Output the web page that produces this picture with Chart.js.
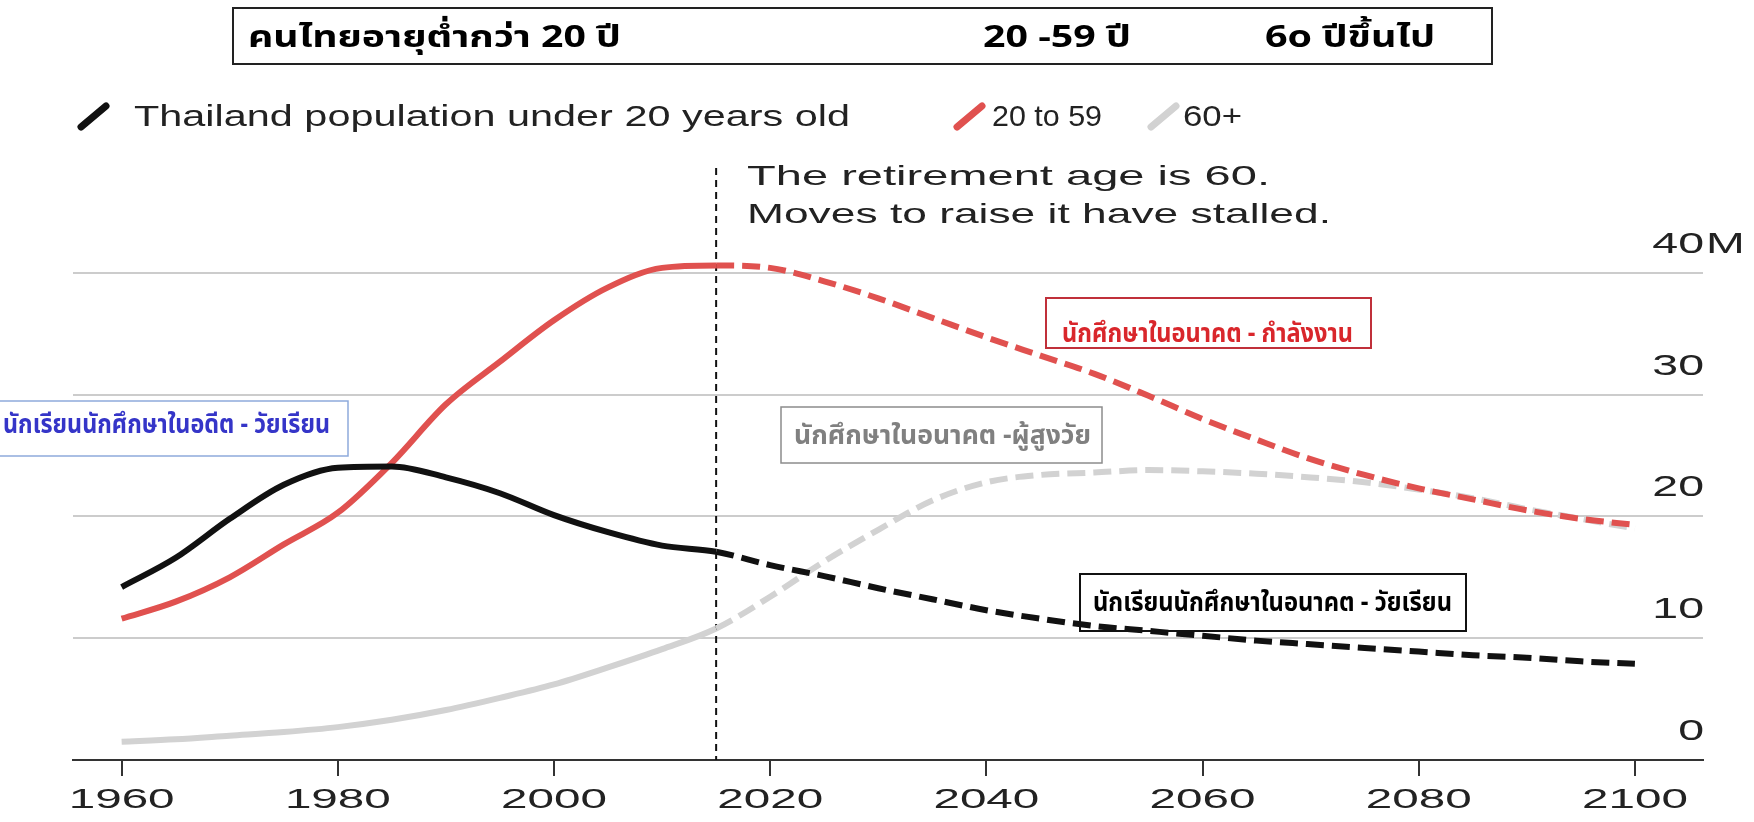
<!DOCTYPE html>
<html>
<head>
<meta charset="utf-8">
<script src="https://cdn.jsdelivr.net/npm/chart.js@4"></script>
<style>
html, body { margin: 0; padding: 0; background: #fff; }
#chart { display: block; }
</style>
</head>
<body>
<canvas id="chart" width="1754" height="822"></canvas>
<script>
// Thailand population by age group, millions (projection from 2015)
const years = [1960, 1965, 1970, 1975, 1980, 1985, 1990, 1995, 2000, 2005, 2010, 2015,
               2020, 2025, 2030, 2035, 2040, 2045, 2050, 2055, 2060, 2065, 2070, 2075,
               2080, 2085, 2090, 2095, 2100];
const under20 = [14.2, 16.6, 19.8, 22.6, 24.0, 24.1, 23.2, 21.9, 20.1, 18.7, 17.6, 17.1,
                 16.0, 15.1, 14.1, 13.2, 12.3, 11.6, 11.0, 10.6, 10.2, 9.8, 9.5, 9.2,
                 8.9, 8.6, 8.4, 8.1, 7.9];
const age20to59 = [11.6, 13.0, 15.0, 17.7, 20.3, 24.4, 29.2, 32.7, 36.1, 38.8, 40.4, 40.6,
                   40.4, 39.3, 37.9, 36.3, 34.7, 33.2, 31.7, 29.9, 28.0, 26.3, 24.7, 23.4,
                   22.3, 21.4, 20.5, 19.8, 19.3];
const age60plus = [1.5, 1.7, 2.0, 2.3, 2.7, 3.3, 4.1, 5.1, 6.2, 7.6, 9.1, 10.8,
                   13.4, 16.3, 18.9, 21.3, 22.8, 23.4, 23.6, 23.8, 23.7, 23.5, 23.2, 22.8,
                   22.2, 21.5, 20.6, 19.8, 19.0];
const projectionStart = 2015;

const xTickYears = [1960, 1980, 2000, 2020, 2040, 2060, 2080, 2100];
const yTickValues = [0, 10, 20, 30, 40];
const yTickLabels = ['0', '10', '20', '30', '40'];

const seriesNames = ['Thailand population under 20 years old', '20 to 59', '60+'];
const headerLabels = ['คนไทยอายุต่ำกว่า 20 ปี', '20 -59 ปี', '6o ปีขึ้นไป'];
const noteLines = ['The retirement age is 60.', 'Moves to raise it have stalled.'];
const boxNoteTexts = [
    'นักเรียนนักศึกษาในอดีต - วัยเรียน',
    'นักศึกษาในอนาคต - กำลังงาน',
    'นักศึกษาในอนาคต -ผู้สูงวัย',
    'นักเรียนนักศึกษาในอนาคต - วัยเรียน'
];

// styling / layout
const seriesColors = ['#111111', '#e0514f', '#d2d2d2'];
const latinFont = '"Liberation Sans", Arial, sans-serif';
const thaiFont = '"Noto Sans Thai", "Noto Sans Thai UI", Tahoma, "Leelawadee UI", Loma, Garuda, sans-serif';
const boxLayout = [
    { box: [-1, 401, 349, 55], x: 3, w: 327, base: 433, color: '#3535c8', border: '#8eaadb', lw: 1.5 },
    { box: [1046, 298, 325, 50], x: 1062, w: 291, base: 342, color: '#d9262b', border: '#c0303a', lw: 2 },
    { box: [781, 407, 321, 56], x: 794, w: 297, base: 444, color: '#808080', border: '#8c8c8c', lw: 1.5 },
    { box: [1080, 574, 386, 57], x: 1093, w: 359, base: 611, color: '#000000', border: '#111111', lw: 2 }
];

function drawText(ctx, text, x, y, opts) {
    ctx.save();
    ctx.font = opts.font;
    ctx.fillStyle = opts.color || '#222';
    ctx.textAlign = 'left';
    ctx.textBaseline = 'alphabetic';
    const w0 = ctx.measureText(text).width;
    const sx = opts.width ? opts.width / w0 : (opts.sx || 1);
    const w = w0 * sx;
    let left = x;
    if (opts.align === 'center') left = x - w / 2;
    else if (opts.align === 'right') left = x - w;
    ctx.translate(left, y);
    ctx.scale(sx, 1);
    ctx.fillText(text, 0, 0);
    ctx.restore();
    return w;
}

function slash(ctx, x, y, color) {
    ctx.save();
    ctx.strokeStyle = color;
    ctx.lineWidth = 7;
    ctx.lineCap = 'round';
    ctx.beginPath();
    ctx.moveTo(x, y + 21);
    ctx.lineTo(x + 25, y);
    ctx.stroke();
    ctx.restore();
}

const decorPlugin = {
    id: 'decor',
    beforeDatasetsDraw(chart) {
        const ctx = chart.ctx;
        const xs = chart.scales.x;
        const area = chart.chartArea;
        const px = xs.getPixelForValue(projectionStart);
        ctx.save();
        ctx.strokeStyle = '#111';
        ctx.lineWidth = 2;
        ctx.setLineDash([7, 5]);
        ctx.beginPath();
        ctx.moveTo(px, area.top);
        ctx.lineTo(px, area.bottom);
        ctx.stroke();
        ctx.restore();
    },
    afterDraw(chart) {
        const ctx = chart.ctx;
        const xs = chart.scales.x;
        const ys = chart.scales.y;

        // x tick labels
        xTickYears.forEach(v => {
            drawText(ctx, String(v), xs.getPixelForValue(v), 808,
                { font: '28px ' + latinFont, sx: 1.7, align: 'center', color: '#222' });
        });
        // y tick labels, sitting above the gridlines
        const right = chart.chartArea.right + 1;
        yTickValues.forEach((v, i) => {
            const py = ys.getPixelForValue(v) - 20;
            drawText(ctx, yTickLabels[i], right, py,
                { font: '30px ' + latinFont, sx: 1.55, align: 'right', color: '#222' });
            if (i === yTickValues.length - 1) {
                drawText(ctx, 'M', right + 2, py, { font: '30px ' + latinFont, sx: 1.55, color: '#222' });
            }
        });

        // header box
        ctx.save();
        ctx.strokeStyle = '#222';
        ctx.lineWidth = 2;
        ctx.strokeRect(233, 8, 1259, 56);
        ctx.restore();
        const headerPos = [[248, 373], [983, 148], [1265, 170]];
        headerLabels.forEach((t, i) => {
            drawText(ctx, t, headerPos[i][0], 47,
                { font: 'bold 30px ' + thaiFont, width: headerPos[i][1], color: '#000' });
        });

        // legend
        const legendPos = [[134, 716], [992, 110], [1183, 59]];
        const iconX = [81, 957, 1151];
        seriesNames.forEach((name, i) => {
            slash(ctx, iconX[i], 106, seriesColors[i]);
            drawText(ctx, name, legendPos[i][0], 126,
                { font: '30px ' + latinFont, width: legendPos[i][1], color: '#222' });
        });

        // retirement note
        drawText(ctx, noteLines[0], 747, 185, { font: '28px ' + latinFont, width: 523, color: '#222' });
        drawText(ctx, noteLines[1], 747, 223, { font: '28px ' + latinFont, width: 584, color: '#222' });

        // Thai boxed notes
        boxNoteTexts.forEach((t, i) => {
            const b = boxLayout[i];
            ctx.save();
            ctx.strokeStyle = b.border;
            ctx.lineWidth = b.lw;
            ctx.strokeRect(b.box[0], b.box[1], b.box[2], b.box[3]);
            ctx.restore();
            drawText(ctx, t, b.x, b.base, { font: 'bold 26px ' + thaiFont, width: b.w, color: b.color });
        });
    }
};

function seriesData(values) {
    return years.map((y, i) => ({ x: y, y: values[i] }));
}

const allSeries = [under20, age20to59, age60plus];
const datasets = allSeries.map((values, i) => ({
    label: seriesNames[i],
    data: seriesData(values),
    borderColor: seriesColors[i],
    borderWidth: 6,
    borderCapStyle: 'butt',
    pointRadius: 0,
    cubicInterpolationMode: 'monotone',
    fill: false,
    segment: {
        borderDash: c => c.p0.parsed.x >= projectionStart ? [18, 8] : undefined
    }
}));

new Chart(document.getElementById('chart').getContext('2d'), {
    type: 'line',
    data: { datasets: datasets },
    options: {
        responsive: false,
        animation: false,
        devicePixelRatio: 1,
        layout: { padding: { left: 73, right: 51, top: 168, bottom: 46 } },
        plugins: {
            legend: { display: false },
            tooltip: { enabled: false }
        },
        scales: {
            x: {
                type: 'linear',
                min: 1955.5,
                max: 2106.3,
                afterBuildTicks: s => { s.ticks = xTickYears.map(v => ({ value: v })); },
                ticks: { display: false },
                grid: { drawOnChartArea: false, drawTicks: true, tickLength: 16, color: '#333', lineWidth: 2 },
                border: { display: true, color: '#333', width: 2 }
            },
            y: {
                position: 'right',
                min: 0,
                max: 48.6,
                afterBuildTicks: s => { s.ticks = yTickValues.filter(v => v > 0).map(v => ({ value: v })); },
                ticks: { display: false },
                grid: { drawTicks: false, color: '#cccccc', lineWidth: 2 },
                border: { display: false }
            }
        }
    },
    plugins: [decorPlugin]
});
</script>
</body>
</html>
